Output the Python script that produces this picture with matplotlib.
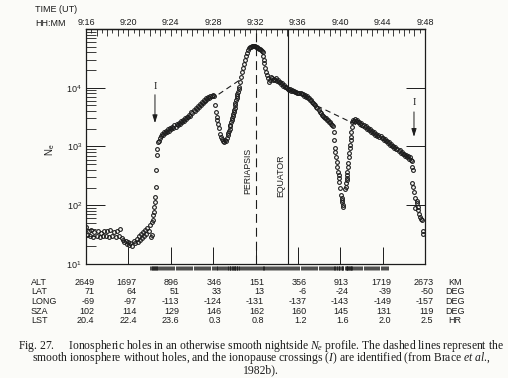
import numpy as np
import matplotlib
matplotlib.use('Agg')
import matplotlib.pyplot as plt
from matplotlib import transforms
from matplotlib.ticker import FixedLocator, NullFormatter, LogLocator, NullLocator

plt.rcParams['font.family'] = ['Liberation Sans', 'DejaVu Sans']
plt.rcParams['mathtext.fontset'] = 'custom'
plt.rcParams['mathtext.it'] = 'Liberation Serif:italic'
plt.rcParams['mathtext.rm'] = 'Liberation Sans'
plt.rcParams['mathtext.default'] = 'regular'

# ---------------- data (time in minutes after 9:16 UT, Ne in cm^-3) ----------------
pre_t = [0.0, 0.1, 0.25, 0.4, 0.5, 0.7, 0.8, 1.0, 1.1, 1.3, 1.4, 1.6, 1.7, 1.9, 2.0, 2.2,
         2.3, 2.5, 2.6, 2.8, 2.9, 3.1, 3.2, 3.4]
pre_ne = [42, 31, 36, 30, 38, 29, 35, 30, 37, 29, 34, 30, 37, 30, 36, 29, 38, 30, 35, 29,
          37, 30, 40, 28]

dip_t = [3.5, 3.6, 3.8, 3.9, 4.0, 4.1, 4.2, 4.3, 4.5, 4.6, 4.8, 4.9, 5.0, 5.1, 5.2, 5.3,
         5.4, 5.5, 5.6, 5.7, 5.8, 5.9, 6.0, 6.1, 6.2]
dip_ne = [26, 24, 25, 22, 24, 21, 23, 20, 25, 23, 27, 24, 30, 26, 33, 28, 35, 30, 38, 33,
          41, 36, 46, 29, 52]

rise_t = [6.25, 6.3, 6.35, 6.4, 6.45, 6.5, 6.55, 6.6, 6.63, 6.66, 6.7]
rise_ne = [31, 56, 68, 77, 94, 114, 138, 205, 400, 720, 900]

bandB_t = [6.75, 6.85, 6.95, 7.05, 7.15, 7.25, 7.35, 7.45, 7.55, 7.65, 7.75, 7.85, 7.95,
           8.05, 8.15, 8.25, 8.35, 8.45, 8.55, 8.65, 8.75, 8.85, 8.95, 9.05, 9.15, 9.25,
           9.35, 9.45, 9.55, 9.65, 9.75, 9.85, 9.95, 10.05, 10.15, 10.25, 10.35, 10.45,
           10.55, 10.65, 10.75, 10.85, 10.95, 11.05, 11.15, 11.25, 11.35, 11.45, 11.55,
           11.65, 11.75, 11.85, 11.95, 12.05]
bandB_ne = [1200, 1250, 1420, 1480, 1620, 1560, 1780, 1700, 1850, 1790, 1950, 1870, 2050,
            1960, 2140, 2060, 2290, 2180, 2400, 2300, 2560, 2450, 2700, 2590, 2850, 2760,
            3020, 2900, 3160, 3150, 3470, 3350, 3800, 3650, 4150, 4000, 4550, 4400, 4900,
            4750, 5300, 5150, 5700, 5500, 6150, 5900, 6700, 6500, 7050, 6800, 7350, 7100,
            7600, 7200]

hole1_t = [12.18, 12.27, 12.37, 12.40, 12.46, 12.55, 12.65, 12.74, 12.84, 12.93, 13.03,
           13.12, 13.22, 13.31, 13.40, 13.45, 13.50, 13.55, 13.59, 13.64, 13.69, 13.74,
           13.78, 13.83, 13.88, 13.93, 13.97, 14.02, 14.06, 14.11, 14.16, 14.21, 14.25,
           14.30, 14.35, 14.40, 14.44, 14.54, 14.63, 14.73, 14.82, 14.92, 15.01, 15.10,
           15.20, 15.29, 15.39, 15.48]
hole1_ne = [5100, 3900, 3190, 2800, 2420, 2080, 1630, 1450, 1340, 1250, 1200, 1300, 1250,
            1380, 1550, 1700, 1850, 2000, 2200, 2350, 2600, 2800, 3000, 3300, 3600, 3900,
            4200, 4600, 5100, 5500, 6200, 6800, 7300, 7900, 8500, 9500, 10400, 12600,
            15200, 18500, 21700, 25400, 29700, 34700, 39000, 43800, 47300, 49200]

peak_t = [15.58, 15.67, 15.77, 15.86, 15.96, 16.05, 16.14, 16.24, 16.33, 16.43, 16.52,
          16.61, 16.71]
peak_ne = [50000, 51000, 51500, 51000, 50500, 49500, 48500, 47500, 46500, 45500, 44000,
           42500, 40500]

fall_t = [16.74, 16.78, 16.82, 16.90, 16.99, 17.09, 17.18, 17.27, 17.37, 17.46, 17.56,
          17.65, 17.75, 17.84, 17.93, 18.03, 18.12, 18.22, 18.31, 18.40, 18.50, 18.60,
          18.69, 18.78, 18.88, 18.97]
fall_ne = [34900, 29700, 26500, 21700, 18600, 16700, 14800, 12600, 13500, 15400, 14800,
           13700, 14200, 13700, 14800, 13200, 13700, 12600, 12600, 11700, 12200, 10800,
           11000, 10400, 10200, 10000]

bandE_t = [19.05, 19.15, 19.25, 19.35, 19.45, 19.55, 19.65, 19.75, 19.85, 19.95, 20.05,
           20.15, 20.25, 20.35, 20.45, 20.55, 20.65, 20.75, 20.85, 20.95, 21.05, 21.15,
           21.25, 21.35, 21.45, 21.55, 21.65, 21.75, 21.85, 21.95, 22.05, 22.15, 22.25,
           22.35, 22.45, 22.55, 22.65, 22.75, 22.85, 22.95, 23.05, 23.15, 23.25, 23.35]
bandE_ne = [9600, 9100, 9400, 8900, 9100, 8700, 8800, 8400, 8500, 8200, 8300, 8000, 8100,
            7700, 7700, 7300, 7400, 7000, 7100, 6700, 6600, 6200, 6100, 5700, 5600, 5200,
            5100, 4700, 4600, 4200, 3900, 3700, 3500, 3300, 3200, 3000, 3000, 2800, 2800,
            2600, 2600, 2450, 2350, 2200]

hole2_t = [23.38, 23.40, 23.50, 23.55, 23.60, 23.69, 23.72, 23.79, 23.85, 23.88, 23.92,
           23.98, 24.07, 24.12, 24.17, 24.20, 24.22, 24.26,
           24.45, 24.54, 24.58, 24.64, 24.60, 24.64, 24.68, 24.73, 24.73, 24.78, 24.83,
           24.88, 24.92, 24.97, 25.02, 25.05, 25.08]
hole2_ne = [1800, 1300, 950, 810, 665, 550, 450, 370, 330, 290, 250, 200, 150, 133, 114,
            125, 100, 94,
            190, 205, 240, 270, 290, 330, 370, 450, 526, 665, 780, 950, 1060, 1300, 1460,
            1800, 2160]

bandG_t = [25.1, 25.2, 25.3, 25.4, 25.5, 25.6, 25.7, 25.8, 25.9, 26.0, 26.1, 26.2, 26.3,
           26.4, 26.5, 26.6, 26.7, 26.8, 26.9, 27.0, 27.1, 27.2, 27.3, 27.4, 27.5, 27.6,
           27.7, 27.8, 27.9, 28.0, 28.1, 28.2, 28.3, 28.4, 28.5, 28.6, 28.7, 28.8, 28.9,
           29.0, 29.1, 29.2, 29.3, 29.4, 29.5, 29.6, 29.7, 29.8, 29.9, 30.0, 30.1, 30.2,
           30.3, 30.4, 30.5, 30.6, 30.7, 30.8]
bandG_ne = [2600, 2800, 2750, 2900, 2750, 2800, 2600, 2650, 2450, 2500, 2300, 2350, 2150,
            2200, 2000, 2050, 1900, 1950, 1800, 1850, 1700, 1750, 1600, 1650, 1520, 1560,
            1450, 1480, 1380, 1400, 1300, 1330, 1230, 1250, 1150, 1170, 1080, 1100, 1010,
            1030, 960, 980, 900, 920, 850, 870, 790, 810, 740, 760, 690, 720, 660, 680, 620,
            650, 580, 560]

tail_t = [30.80, 30.85, 30.77, 30.87, 31.00, 31.06, 31.06, 31.20, 31.24, 31.30, 31.34,
          31.45, 31.53, 31.62, 31.72, 31.80, 31.85]
tail_ne = [450, 400, 240, 205, 165, 133, 90, 120, 110, 95, 83, 70, 63, 58, 56, 36, 32]

# smooth ionosphere (dashed) segments
smooth1_t = [11.04, 14.54]
smooth1_ne = [5120, 13650]
smooth2_t = [21.80, 26.52]
smooth2_ne = [4920, 1920]

periapsis_t = 16.0
equator_t = 19.07
ionopause_t = [6.51, 30.96]
ionopause_arrow = [(10700, 7600, 2500), (5530, 3880, 1460)]

time_labels = ['9:16', '9:20', '9:24', '9:28', '9:32', '9:36', '9:40', '9:44', '9:48']
row_names = ['ALT', 'LAT', 'LONG', 'SZA', 'LST']
row_units = ['KM', 'DEG', 'DEG', 'DEG', 'HR']
alt = ['2649', '1697', '896', '346', '151', '356', '913', '1719', '2673']
lat = ['71', '64', '51', '33', '13', '-6', '-24', '-39', '-50']
lon = ['-69', '-97', '-113', '-124', '-131', '-137', '-143', '-149', '-157']
sza = ['102', '114', '129', '146', '162', '160', '145', '131', '119']
lst = ['20.4', '22.4', '23.6', '0.3', '0.8', '1.2', '1.6', '2.0', '2.5']

all_t = (pre_t + dip_t + rise_t + bandB_t + hole1_t + peak_t + fall_t + bandE_t +
         hole2_t + bandG_t + tail_t)
all_ne = (pre_ne + dip_ne + rise_ne + bandB_ne + hole1_ne + peak_ne + fall_ne + bandE_ne +
          hole2_ne + bandG_ne + tail_ne)

# ---------------- figure ----------------
W, H = 508, 378
ink = '#1c1c1c'
bg = '#fbfbf8'
fig = plt.figure(figsize=(W / 100, H / 100), dpi=100)
fig.patch.set_facecolor(bg)
ax = fig.add_axes([86 / W, 1 - 264 / H, (425 - 86) / W, (264 - 29) / H])
ax.set_facecolor(bg)
ax.set_yscale('log')
ax.set_xlim(0, 32)
ax.set_ylim(10, 1e5)
for s in ax.spines.values():
    s.set_linewidth(0.9)
    s.set_color(ink)

ax.plot(all_t, all_ne, 'o', ms=2.7, mfc='none', mec=ink, mew=0.8, zorder=3)
ax.plot(smooth1_t, smooth1_ne, color=ink, lw=0.8, ls=(0, (5, 3.5)))
ax.plot(smooth2_t, smooth2_ne, color=ink, lw=0.8, ls=(0, (5, 3.5)))
ax.axvline(periapsis_t, color=ink, lw=0.8, ls=(0, (8, 4.5)))
ax.axvline(equator_t, color=ink, lw=0.8)

ax.text(15.29, 384, 'PERIAPSIS', rotation=90, ha='center', va='center', fontsize=6.3, color=ink)
ax.text(18.41, 316, 'EQUATOR', rotation=90, ha='center', va='center', fontsize=6.3, color=ink)

for tx, (ytxt, y0, y1) in zip(ionopause_t, ionopause_arrow):
    ax.text(tx, ytxt, 'I', family='Liberation Serif', fontsize=7.5, ha='center',
            va='center', color=ink)
    ax.annotate('', xy=(tx, y1), xytext=(tx, y0),
                arrowprops=dict(arrowstyle='-|>,head_length=0.8,head_width=0.25',
                                lw=0.7, color=ink, mutation_scale=6,
                                shrinkA=0, shrinkB=0))

# rug of sample times below the axis
rug_t = [t for t in all_t if 6.0 <= t <= 28.5]
ax.vlines(rug_t, -0.008, -0.026, transform=ax.get_xaxis_transform(), colors=ink,
          lw=0.55, clip_on=False)

# x ticks: bottom major inside, top labelled
ax.set_xticks(np.arange(0, 33, 4))
ax.xaxis.set_minor_locator(NullLocator())
ax.tick_params(axis='x', which='major', direction='in', length=12, width=0.7,
               top=False, bottom=True, labelbottom=False, color=ink)
sec = ax.secondary_xaxis('top')
sec.set_xticks(np.arange(0, 33, 1))
sec.set_xticklabels([time_labels[i // 4] if i % 4 == 0 else '' for i in range(33)])
sec.xaxis.set_minor_locator(FixedLocator(np.arange(0.5, 32, 1)))
sec.tick_params(which='major', direction='in', length=5, width=0.6, pad=1.3,
                labelsize=6.5, colors=ink)
sec.tick_params(which='minor', direction='in', length=3, width=0.6, colors=ink)
sec.spines['top'].set_linewidth(0.9)

# y ticks
ax.set_yticks([10, 100, 1000, 1e4, 1e5])
ax.set_yticklabels(['10$^1$', '10$^2$', '10$^3$', '10$^4$', ''])
ax.yaxis.set_minor_locator(LogLocator(base=10, subs=np.arange(2, 10), numticks=20))
ax.yaxis.set_minor_formatter(NullFormatter())
ax.tick_params(axis='y', which='major', direction='in', length=14, width=0.7, left=True,
               right=True, labelsize=6.5, pad=3, colors=ink)
ax.tick_params(axis='y', which='minor', direction='in', length=7, width=0.6, left=True,
               right=False, colors=ink)

fig.text(50 / W, 1 - 150 / H, 'N$_e$', rotation=90, ha='center', va='center',
         fontsize=7, color=ink)
fig.text(35 / W, 1 - 10 / H, 'TIME (UT)', ha='left', va='center', fontsize=6.5, color=ink)
fig.text(35 / W, 1 - 23 / H, 'HH:MM', ha='left', va='center', fontsize=6.5, color=ink)

# table
bt = transforms.blended_transform_factory(ax.transData, fig.transFigure)
rows = [alt, lat, lon, sza, lst]
row_y = [282.5, 292, 301.5, 311, 320.5]
for name, unit, vals, yy in zip(row_names, row_units, rows, row_y):
    fy = 1 - yy / H
    fig.text(31 / W, fy, name, ha='left', va='center', fontsize=6.5, color=ink)
    fig.text(455 / W, fy, unit, ha='center', va='center', fontsize=6.5, color=ink)
    for i, v in enumerate(vals):
        ax.text(4 * i + 0.8, fy, v, transform=bt, ha='right', va='center',
                fontsize=6.5, color=ink)

# caption: one multi-line text
serif = 'Liberation Serif'
caption = ('Fig. 27.     Ionospheric holes in an otherwise smooth nightside '
           '$\\mathit{N_e}$ profile. The dashed lines represent the\n'
           'smooth ionosphere without holes, and the ionopause crossings '
           '($\\mathit{I}$) are identified (from Brace $\\mathit{et\\ al}$.,\n'
           '1982b).')
cap = fig.text(261 / W, 1 - 337.5 / H, caption, ha='center', va='top',
               multialignment='center', family=serif, fontsize=7.5, color=ink,
               linespacing=0.72)
for _ in range(4):
    fig.canvas.draw()
    r = fig.canvas.get_renderer()
    wc = cap.get_window_extent(r).width
    cap.set_fontsize(cap.get_fontsize() * 487 / wc)

fig.savefig('out.png', dpi=100, facecolor=bg)
